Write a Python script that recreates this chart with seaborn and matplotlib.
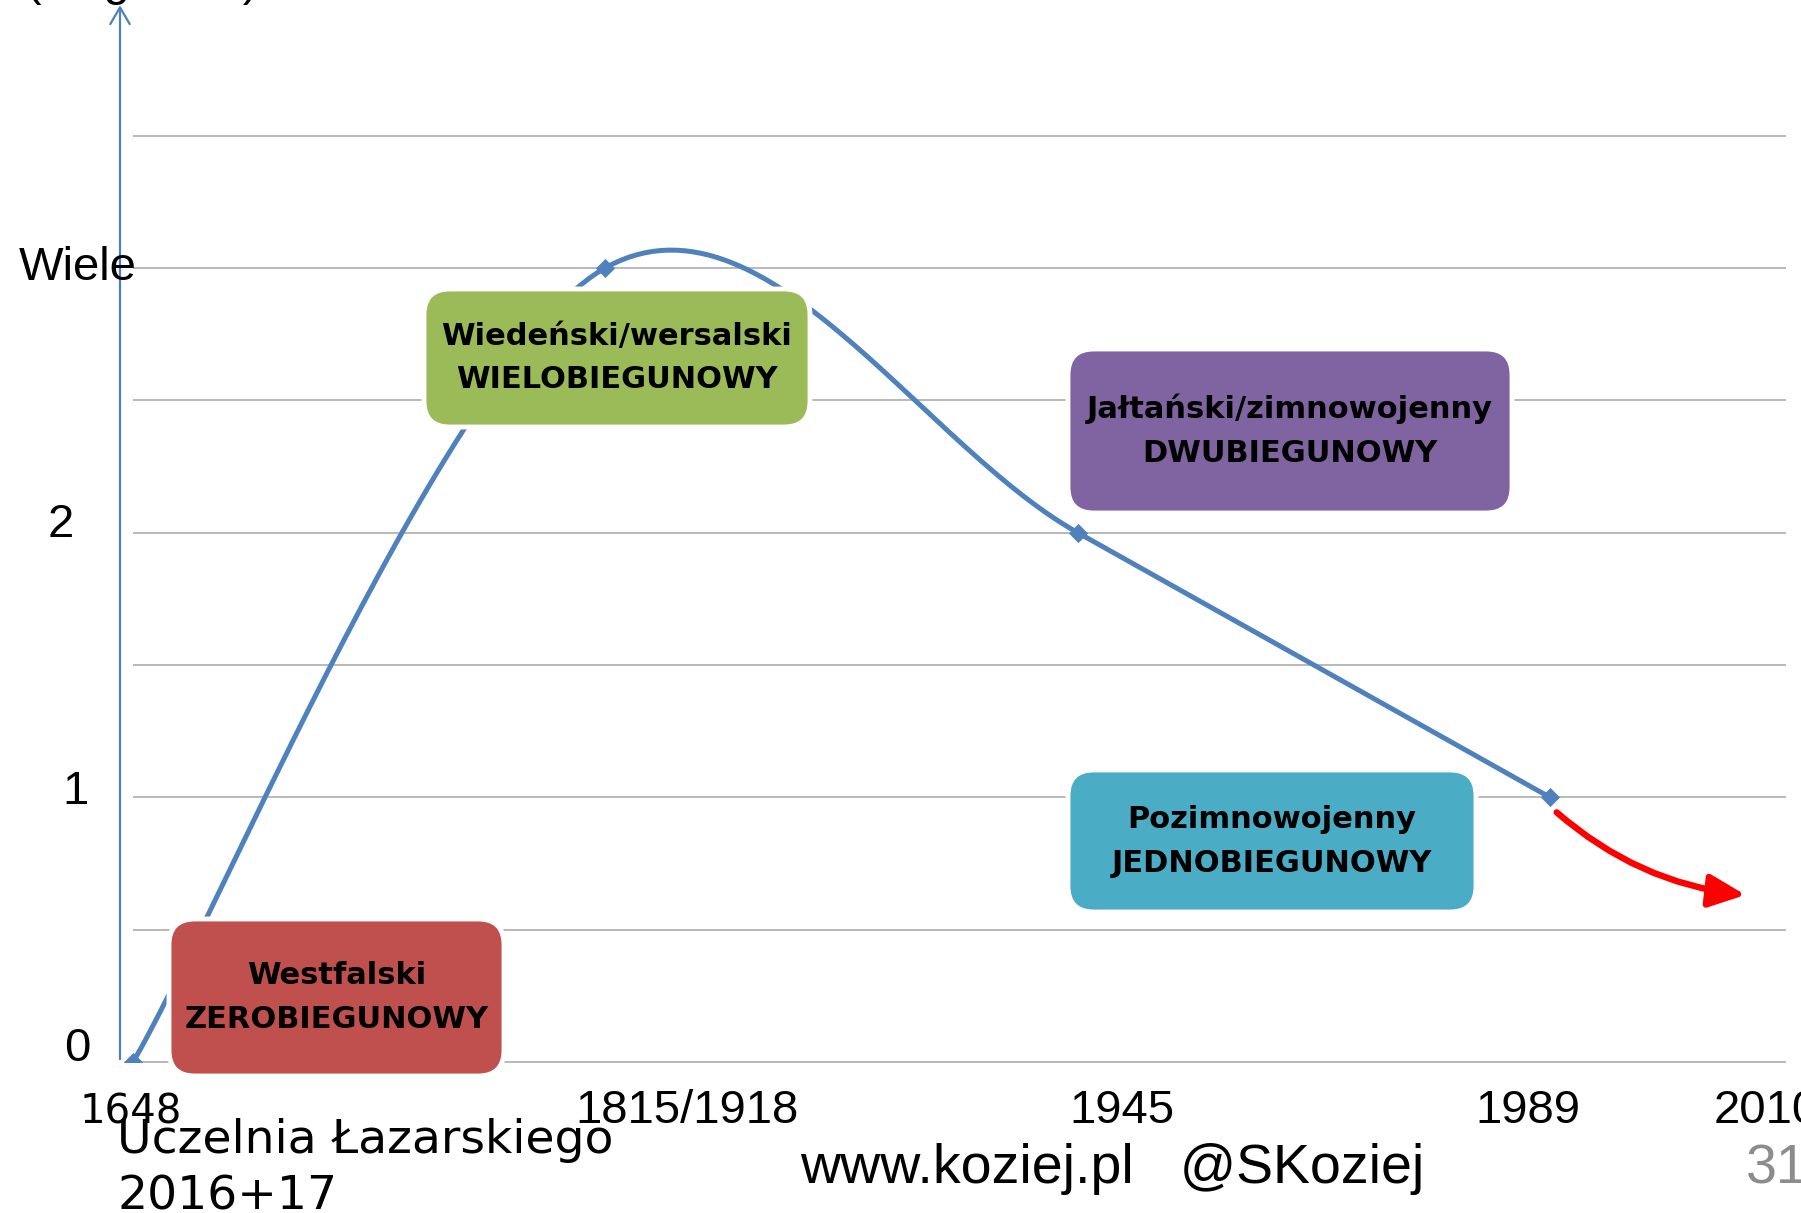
import numpy as np
import pandas as pd
import matplotlib
matplotlib.use('Agg')
import matplotlib.pyplot as plt
import seaborn as sns
from matplotlib.patches import FancyBboxPatch, FancyArrowPatch
from matplotlib.transforms import blended_transform_factory

# ── Data ─────────────────────────────────────────────────────
periods      = ['1648', '1815/1918', '1945', '1989', '2010']
poles        = [0, 3, 2, 1]          # 3 = "Wiele"
trend_2010   = 0.63                  # red arrow: where it heads after 1989
ytick_values = [0, 1, 2, 3]
ytick_labels = ['0', '1', '2', 'Wiele']
box_titles   = ['Westfalski', 'Wiedeński/wersalski', 'Jałtański/zimnowojenny', 'Pozimnowojenny']
box_kinds    = ['ZEROBIEGUNOWY', 'WIELOBIEGUNOWY', 'DWUBIEGUNOWY', 'JEDNOBIEGUNOWY']
box_colors   = ['#C0504D', '#9BBB59', '#8064A2', '#4BACC6']
footer_left  = ['Uczelnia Łazarskiego', '2016+17']
footer_mid   = 'www.koziej.pl   @SKoziej'
page_no      = '31'
y_title      = '(biegunów)'

# ── Palette / layout ─────────────────────────────────────────
BLUE = '#4F81BD'
GRID = '#A6A6A6'
W, H = 1801, 1213

sns.set_theme(style='white')
plt.rcParams['font.family'] = ['DejaVu Sans']

fig = plt.figure(figsize=(W / 100, H / 100), dpi=100, facecolor='white')
ax = fig.add_axes([120 / W, 151 / H, 1666 / W, 926.5 / H])
ax.set_xlim(-13 / 472, 3.5)
ax.set_ylim(0, 3.5)
ax.axis('off')

# gridlines
ax.hlines(np.arange(0, 3.51, 0.5), 0, 3.5, color=GRID, lw=1.1, clip_on=False, zorder=1)

# smoothed line (Bezier through the points, like the spreadsheet "smooth line")
pts = np.column_stack([np.arange(len(poles)), poles]).astype(float)
ext = np.vstack([pts[0], pts, pts[-1]])
t = np.linspace(0, 1, 60)[:, None]
segs = []
for i in range(len(pts) - 1):
    p0, p3 = ext[i + 1], ext[i + 2]
    c1 = p0 + (ext[i + 2] - ext[i]) / 6
    c2 = p3 - (ext[i + 3] - ext[i + 1]) / 6
    segs.append((1 - t) ** 3 * p0 + 3 * t * (1 - t) ** 2 * c1 + 3 * t ** 2 * (1 - t) * c2 + t ** 3 * p3)
curve = pd.DataFrame(np.vstack(segs), columns=['x', 'y'])
sns.lineplot(data=curve, x='x', y='y', sort=False, color=BLUE, lw=3.6, ax=ax, zorder=3)
sns.scatterplot(x=np.arange(len(poles)), y=poles, marker='D', s=95, color=BLUE,
                edgecolor=BLUE, linewidth=0, ax=ax, zorder=4)

# red trend arrow after 1989
last = len(poles) - 1
arr = FancyArrowPatch((last + 0.01, poles[-1] - 0.05), (3.42, trend_2010),
                      connectionstyle='arc3,rad=0.16',
                      arrowstyle='-|>,head_length=1.1,head_width=0.5',
                      mutation_scale=20, color='#FF0000', lw=4.6, zorder=5)
ax.add_patch(arr)

# vertical axis with arrow up to the top of the slide
ax.annotate('', xy=(120 / W, 0.998), xycoords='figure fraction',
            xytext=(120 / W, 151 / H), textcoords='figure fraction',
            arrowprops=dict(arrowstyle='->,head_length=0.6,head_width=0.35',
                            color=BLUE, lw=1.6, mutation_scale=20))

# y labels
ytr = blended_transform_factory(fig.transFigure, ax.transData)
ylab_x   = [77, 76, 61, 78]
ylab_off = [0.05, 0.02, 0.03, 0.0]
for v, lab, px, off in zip(ytick_values, ytick_labels, ylab_x, ylab_off):
    fig.text(px / W, v + off, lab, transform=ytr, ha='center', va='center',
             fontsize=34, family='Liberation Sans', color='black')

# title of the axis, cut off by the top edge
fig.text(25 / W, 1 + 5 / H, y_title, ha='left', va='baseline', fontsize=34,
         family='Liberation Sans', color='black')

# x labels
xlab_x  = [131, 687, 1122, 1528, 1714]
xlab_ha = ['center', 'center', 'center', 'center', 'left']
xlab_ff = ['DejaVu Sans'] + ['Liberation Sans'] * 4
for lab, px, ha, ff in zip(periods, xlab_x, xlab_ha, xlab_ff):
    fig.text(px / W, (H - 1123) / H, lab, ha=ha, va='baseline',
             fontsize=34 if ff != 'DejaVu Sans' else 29, family=ff, color='black')

# period boxes (left, top, right, bottom in slide pixels)
box_px = [(169, 919, 504, 1076), (424, 289, 810, 427), (1068, 349, 1512, 513), (1068, 770, 1476, 912)]
for (x0, y0, x1, y1), title, kind, col in zip(box_px, box_titles, box_kinds, box_colors):
    box = FancyBboxPatch((x0 / 100, (H - y1) / 100), (x1 - x0) / 100, (y1 - y0) / 100,
                         boxstyle='round,pad=0,rounding_size=0.26',
                         transform=fig.dpi_scale_trans, facecolor=col,
                         edgecolor='white', lw=3.5, zorder=2)
    fig.add_artist(box)
    cx, cy = (x0 + x1) / 2, (y0 + y1) / 2
    fig.text(cx / W, (H - cy + 22) / H, title, ha='center', va='center',
             fontsize=22, fontweight='bold', color='black', zorder=6)
    fig.text(cx / W, (H - cy - 22) / H, kind, ha='center', va='center',
             fontsize=22, fontweight='bold', color='black', zorder=6)

# footer
fig.text(117 / W, (H - 1153) / H, footer_left[0], ha='left', va='baseline', fontsize=34, color='black')
fig.text(117 / W, (H - 1210) / H, footer_left[1], ha='left', va='baseline', fontsize=34, color='black')
fig.text(800 / W, (H - 1183) / H, footer_mid, ha='left', va='baseline', fontsize=40,
         family='Liberation Sans', color='black')
fig.text(1746 / W, (H - 1183) / H, page_no, ha='left', va='baseline', fontsize=40,
         family='Liberation Sans', color='#8C8C8C')

fig.savefig('out.png', dpi=100, facecolor='white')
